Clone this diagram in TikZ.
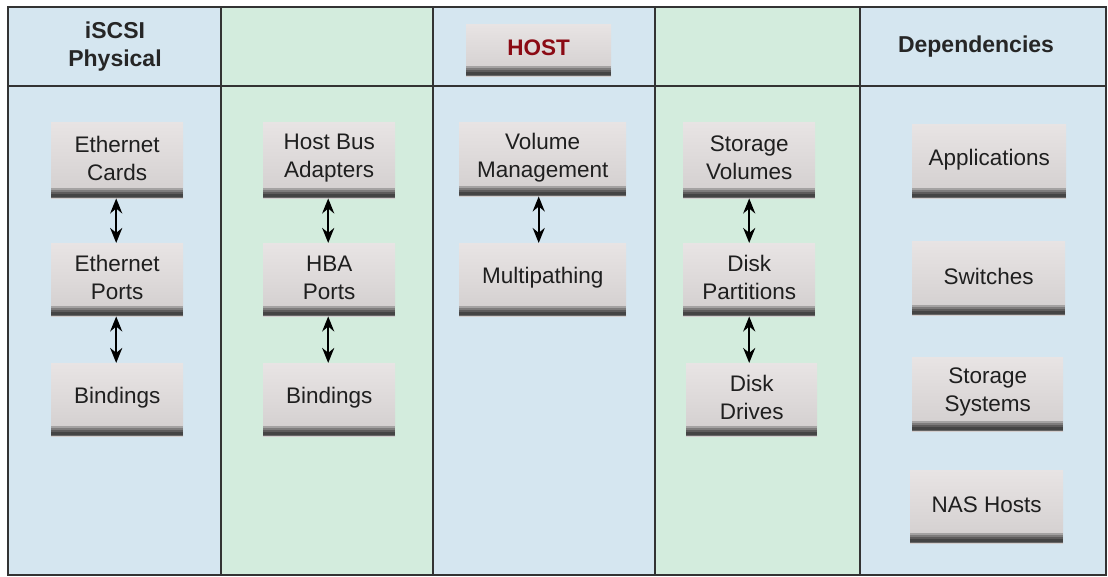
\documentclass[tikz,border=0pt]{standalone}
\usepackage{fontspec}
\setmainfont{Liberation Sans}
\usetikzlibrary{arrows.meta}
\definecolor{cblue}{HTML}{D5E6F0}
\definecolor{cgreen}{HTML}{D3ECDD}
\definecolor{btop}{HTML}{E8E4E4}
\definecolor{bbot}{HTML}{D2CECE}
\definecolor{bandA}{HTML}{A4A2A2}
\definecolor{bandB}{HTML}{7E7C7C}
\definecolor{bandC}{HTML}{5E5C5C}
\definecolor{bandD}{HTML}{444444}
\definecolor{bandE}{HTML}{666666}
\definecolor{hostred}{HTML}{8B0A14}
\tikzset{
  gbox/.style={rectangle, top color=btop, bottom color=bbot, inner sep=0pt},
  gtext/.style={align=center, font=\fontsize{22.5}{28}\selectfont, text=black!88, yshift=2pt},
  hdr/.style={align=center, font=\bfseries\fontsize{23}{28}\selectfont, text=black!85},
  dbl/.style={>={Stealth[length=15pt,width=12pt]}, <->, line width=2.4pt},
  frame/.style={line width=1.3pt, draw=black!80}
}
\newcommand{\gb}[6]{\node[gbox, minimum width=#3-#2, minimum height=#5-#4, anchor=north west,
  label={[gtext]center:{#6}}] (#1) at (#2,#4) {};
  \fill[bandA] (#2,#5-10) rectangle (#3,#5-8);
  \fill[bandB] (#2,#5-8) rectangle (#3,#5-6);
  \fill[bandC] (#2,#5-6) rectangle (#3,#5-4);
  \fill[bandD] (#2,#5-4) rectangle (#3,#5-1);
  \fill[bandE] (#2,#5-1) rectangle (#3,#5);}
\begin{document}
\begin{tikzpicture}[x=1pt,y=-1pt]
\useasboundingbox (0,0) rectangle (1108,577);
\fill[white] (0,0) rectangle (1108,577);
% columns
\fill[cblue] (8,7) rectangle (221,575);
\fill[cgreen] (221,7) rectangle (433,575);
\fill[cblue] (433,7) rectangle (655,575);
\fill[cgreen] (655,7) rectangle (860,575);
\fill[cblue] (860,7) rectangle (1106,575);
\draw[frame] (8,7) rectangle (1106,575);
\draw[frame] (8,86) -- (1106,86);
\foreach \x in {221,433,655,860} \draw[frame] (\x,7) -- (\x,575);
% headers
\node[hdr] (h1) at (115,47) {iSCSI\\Physical};
\node[hdr] (h5) at (976,47) {Dependencies};
\gb{host}{466}{611}{24}{76}{\textcolor{hostred}{\bfseries HOST}}
% column 1
\gb{ec}{51}{183}{122}{198}{Ethernet\\Cards}
\gb{ep}{51}{183}{243}{316}{Ethernet\\Ports}
\gb{b1}{51}{183}{363}{436}{Bindings}
% column 2
\gb{hba}{263}{395}{122}{198}{Host Bus\\Adapters}
\gb{hp}{263}{395}{243}{316}{HBA\\Ports}
\gb{b2}{263}{395}{363}{436}{Bindings}
% column 3
\gb{vm}{459}{626}{122}{196}{Volume\\Management}
\gb{mp}{459}{626}{243}{316}{Multipathing}
% column 4
\gb{sv}{683}{815}{122}{198}{Storage\\Volumes}
\gb{dp}{683}{815}{243}{316}{Disk\\Partitions}
\gb{dd}{686}{817}{363}{436}{Disk\\Drives}
% column 5
\gb{app}{912}{1066}{124}{198}{Applications}
\gb{sw}{912}{1065}{241}{315}{Switches}
\gb{ss}{912}{1063}{357}{431}{Storage\\Systems}
\gb{nas}{910}{1063}{470}{543}{NAS Hosts}
% arrows
\draw[dbl] ([xshift=-1pt]ec.south) -- ([xshift=-1pt]ep.north);
\draw[dbl] ([xshift=-1pt]ep.south) -- ([xshift=-1pt]b1.north);
\draw[dbl] ([xshift=-1pt]hba.south) -- ([xshift=-1pt]hp.north);
\draw[dbl] ([xshift=-1pt]hp.south) -- ([xshift=-1pt]b2.north);
\draw[dbl] ([xshift=-4pt]vm.south) -- ([xshift=-4pt]mp.north);
\draw[dbl] (sv.south) -- (dp.north);
\draw[dbl] (dp.south) -- (dp.south |- dd.north);
\end{tikzpicture}
\end{document}
